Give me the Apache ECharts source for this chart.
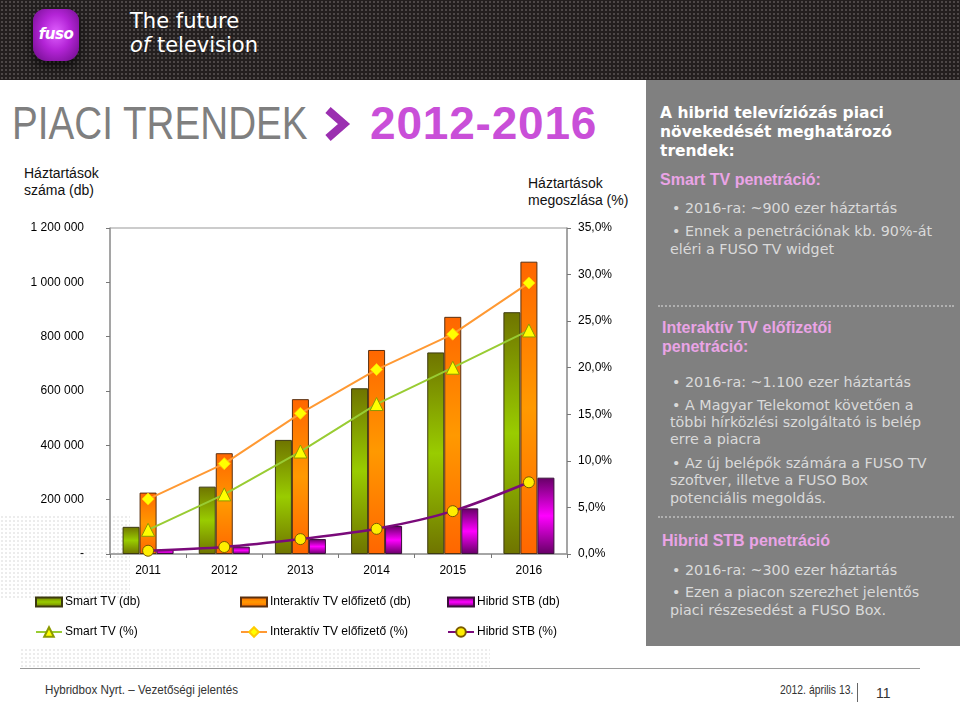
<!DOCTYPE html>
<html>
<head>
<meta charset="utf-8">
<script src="https://cdn.jsdelivr.net/npm/echarts@6/dist/echarts.min.js"></script>
<style>
  html,body{margin:0;padding:0;background:#fff;}
  body{width:960px;height:702px;position:relative;overflow:hidden;font-family:"Liberation Sans",Arial,sans-serif;}
  .abs{position:absolute;white-space:nowrap;}
  #header{position:absolute;left:0;top:0;width:960px;height:80px;background-color:#231f1f;
    background-image:radial-gradient(#4d4848 0.8px, transparent 1.2px);background-size:4px 4px;}
  .tex{position:absolute;background-image:radial-gradient(#ececec 0.8px, transparent 1.2px);background-size:4px 4px;}
  #logo{position:absolute;left:33px;top:9px;width:46px;height:52px;border-radius:12px 12px 14px 14px;
    background:radial-gradient(ellipse at 50% 45%, #e060ff 0%, #b324d6 45%, #6a0a85 100%);
    box-shadow:0 6px 10px rgba(0,0,0,0.6);}
  #logo span{position:absolute;left:0;width:46px;top:16px;text-align:center;color:#fff;font-style:italic;font-weight:bold;font-size:15px;font-family:"DejaVu Sans",sans-serif;letter-spacing:-0.5px;}
  .hdr{color:#fff;font-family:"DejaVu Sans",sans-serif;font-size:21px;line-height:24px;}
  #panel{position:absolute;left:646px;top:80px;width:314px;height:566px;background:#808080;}
  .ph{color:#fff;font-family:"DejaVu Sans",sans-serif;font-weight:bold;font-size:15.5px;line-height:20px;}
  .pk{color:#eaa4e6;font-family:"Liberation Sans",Arial,sans-serif;font-weight:bold;font-size:16px;line-height:20px;}
  .pb{color:#dadada;font-family:"DejaVu Sans",sans-serif;font-size:14.3px;line-height:18px;}
  .sep{position:absolute;left:658px;width:296px;height:0;border-top:2px dotted #b0b0b0;}
  .ax{font-size:14px;line-height:17px;color:#111;}
  #chart{position:absolute;left:0;top:0;width:960px;height:702px;}
  .ft{font-size:13.5px;line-height:16px;color:#333;font-family:"Liberation Sans",Arial,sans-serif;transform-origin:0 0;}
</style>
</head>
<body>
<div id="header"></div>
<div class="tex" style="left:0;top:515px;width:130px;height:85px;"></div>
<div class="tex" style="left:20px;top:648px;width:470px;height:19px;"></div>
<div id="logo"><span>fuso</span></div>
<div class="abs hdr" style="left:130px;top:9px;">The future</div>
<div class="abs hdr" style="left:130px;top:33px;"><i>of</i> television</div>

<div class="abs" style="left:12px;top:98px;font-size:46px;line-height:50px;color:#7f7f7f;transform:scaleX(0.84);transform-origin:0 0;">PIACI TRENDEK</div>
<svg class="abs" style="left:322px;top:106px;" width="30" height="36" viewBox="0 0 30 36">
  <polyline points="6,4 22,18 6,32" fill="none" stroke="#9b2fb0" stroke-width="8" stroke-linejoin="miter"/>
</svg>
<div class="abs" style="left:370px;top:98px;font-size:46px;line-height:50px;color:#c94fd8;font-weight:bold;letter-spacing:0.8px;">2012-2016</div>

<div class="abs ax" style="left:24px;top:165px;">Háztartások</div>
<div class="abs ax" style="left:24px;top:182px;">száma (db)</div>
<div class="abs ax" style="left:528px;top:175px;">Háztartások</div>
<div class="abs ax" style="left:528px;top:192px;">megoszlása (%)</div>

<div id="panel"></div>
<div class="abs ph" style="left:660px;top:103px;">A hibrid televíziózás piaci</div>
<div class="abs ph" style="left:660px;top:122px;">növekedését meghatározó</div>
<div class="abs ph" style="left:660px;top:141px;">trendek:</div>
<div class="abs pk" style="left:660px;top:170px;">Smart TV penetráció:</div>
<div class="abs pb" style="left:672px;top:199px;">• 2016-ra: ~900 ezer háztartás</div>
<div class="abs pb" style="left:672px;top:222px;">• Ennek a penetrációnak kb. 90%-át</div>
<div class="abs pb" style="left:670px;top:240px;">eléri a FUSO TV widget</div>
<div class="sep" style="top:305px;"></div>
<div class="abs pk" style="left:662px;top:318px;">Interaktív TV előfizetői</div>
<div class="abs pk" style="left:662px;top:337px;">penetráció:</div>
<div class="abs pb" style="left:672px;top:373px;">• 2016-ra: ~1.100 ezer háztartás</div>
<div class="abs pb" style="left:672px;top:396px;">• A Magyar Telekomot követően a</div>
<div class="abs pb" style="left:670px;top:413px;">többi hírközlési szolgáltató is belép</div>
<div class="abs pb" style="left:670px;top:430px;">erre a piacra</div>
<div class="abs pb" style="left:672px;top:454px;">• Az új belépők számára a FUSO TV</div>
<div class="abs pb" style="left:670px;top:471px;">szoftver, illetve a FUSO Box</div>
<div class="abs pb" style="left:670px;top:489px;">potenciális megoldás.</div>
<div class="sep" style="top:516px;"></div>
<div class="abs pk" style="left:662px;top:531px;">Hibrid STB penetráció</div>
<div class="abs pb" style="left:672px;top:561px;">• 2016-ra: ~300 ezer háztartás</div>
<div class="abs pb" style="left:672px;top:583px;">• Ezen a piacon szerezhet jelentős</div>
<div class="abs pb" style="left:670px;top:601px;">piaci részesedést a FUSO Box.</div>

<div class="abs" style="left:20px;top:668px;width:900px;height:0;border-top:1px solid #9a9a9a;"></div>
<div class="abs ft" style="left:45px;top:682px;transform:scaleX(0.86);">Hybridbox Nyrt. – Vezetőségi jelentés</div>
<div class="abs ft" style="left:780px;top:682px;transform:scaleX(0.77);">2012. április 13.</div>
<div class="abs" style="left:857px;top:683px;width:0;height:20px;border-left:1px solid #666;"></div>
<div class="abs ft" style="left:876px;top:685px;font-size:14px;">11</div>

<div id="chart"></div>
<script>
// ---- data ----
var years = ['2011', '2012', '2013', '2014', '2015', '2016'];
var smartTvDb = [100000, 248000, 420000, 610000, 742000, 890000];
var interaktivDb = [226000, 371000, 570000, 751000, 873000, 1076000];
var hibridDb = [15000, 27000, 55000, 103000, 168000, 281000];
var smartTvPct = [2.6, 6.4, 11.0, 16.1, 20.0, 24.0];
var interaktivPct = [5.9, 9.7, 15.1, 19.8, 23.6, 29.1];
var hibridPct = [0.35, 0.75, 1.6, 2.7, 4.6, 7.7];
var leftTicks = [0, 200000, 400000, 600000, 800000, 1000000, 1200000];
var rightTicks = [0, 5, 10, 15, 20, 25, 30, 35];
var names = ['Smart TV (db)', 'Interaktív TV előfizető (db)', 'Hibrid STB (db)',
             'Smart TV (%)', 'Interaktív TV előfizető (%)', 'Hibrid STB (%)'];

function vgrad(a, b) {
  return new echarts.graphic.LinearGradient(0, 0, 0, 1, [
    {offset: 0, color: a}, {offset: 0.5, color: b}, {offset: 1, color: a}]);
}
var green = vgrad('#6f7400', '#99cc00');
var orange = vgrad('#ff6600', '#ff9900');
var purple = vgrad('#660066', '#ff00ff');

var chart = echarts.init(document.getElementById('chart'), null, {renderer: 'canvas'});
var font = {fontFamily: 'Liberation Sans, Arial, sans-serif', fontSize: 12, color: '#000'};

function legend(name, left, top, opts) {
  var l = {
    left: left, top: top, padding: 0, itemGap: 0,
    itemWidth: 26, itemHeight: 9,
    textStyle: Object.assign({}, font, {padding: [0, 0, 0, -2]}),
    data: [name]
  };
  return Object.assign(l, opts || {});
}

chart.setOption({
  animation: false,
  backgroundColor: 'transparent',
  grid: {left: 110, top: 228, width: 457, height: 326, show: true, borderColor: '#999', borderWidth: 1, backgroundColor: 'transparent'},
  legend: [
    legend(names[0], 35, 596, {icon: 'rect'}),
    legend(names[1], 240, 596, {icon: 'rect'}),
    legend(names[2], 447, 596, {icon: 'rect'}),
    legend(names[3], 35, 626, {itemHeight: 12}),
    legend(names[4], 240, 626, {itemHeight: 12}),
    legend(names[5], 447, 626, {itemHeight: 12})
  ],
  xAxis: {
    type: 'category', data: years,
    axisLine: {lineStyle: {color: '#999', width: 1.5}},
    axisTick: {show: true, length: 4, lineStyle: {color: '#777'}},
    axisLabel: Object.assign({}, font, {margin: 11})
  },
  yAxis: [{
    type: 'value', min: 0, max: 1200000, interval: 200000,
    axisLine: {show: true, lineStyle: {color: '#999', width: 1.5}},
    axisTick: {show: true, length: 4, lineStyle: {color: '#777'}},
    splitLine: {show: false},
    axisLabel: Object.assign({}, font, {margin: 26, formatter: function (v) {
      if (leftTicks.indexOf(v) < 0) return '';
      if (v === 0) return '-';
      return String(v).replace(/\B(?=(\d{3})+(?!\d))/g, ' ');
    }})
  }, {
    type: 'value', min: 0, max: 35, interval: 5, position: 'right',
    axisLine: {show: true, lineStyle: {color: '#999', width: 1.5}},
    axisTick: {show: true, length: 4, lineStyle: {color: '#777'}},
    splitLine: {show: false},
    axisLabel: Object.assign({}, font, {margin: 11, formatter: function (v) {
      if (rightTicks.indexOf(v) < 0) return '';
      return v.toFixed(1).replace('.', ',') + '%';
    }})
  }],
  series: [
    {name: names[0], type: 'bar', data: smartTvDb, barWidth: 17, barGap: '0%',
     itemStyle: {color: green, borderColor: '#3d3a10', borderWidth: 1}},
    {name: names[1], type: 'bar', data: interaktivDb, barWidth: 17, barGap: '0%',
     itemStyle: {color: orange, borderColor: '#5a3010', borderWidth: 1}},
    {name: names[2], type: 'bar', data: hibridDb, barWidth: 17, barGap: '0%',
     itemStyle: {color: purple, borderColor: '#3a103a', borderWidth: 1}},
    {name: names[3], type: 'line', yAxisIndex: 1, data: smartTvPct, z: 5,
     symbol: 'triangle', symbolSize: 13,
     lineStyle: {color: '#99cc33', width: 2},
     itemStyle: {color: '#ffff00', borderColor: '#8c9a00', borderWidth: 1}},
    {name: names[4], type: 'line', yAxisIndex: 1, data: interaktivPct, z: 5,
     symbol: 'diamond', symbolSize: 12,
     lineStyle: {color: '#ff9933', width: 2},
     itemStyle: {color: '#ffff00', borderColor: '#ffcc00', borderWidth: 1}},
    {name: names[5], type: 'line', yAxisIndex: 1, data: hibridPct, z: 5, smooth: 0.3,
     symbol: 'circle', symbolSize: 11,
     lineStyle: {color: '#7a0a7a', width: 2.5},
     itemStyle: {color: '#ffee00', borderColor: '#7a5a00', borderWidth: 1}}
  ]
});
</script>
</body>
</html>
